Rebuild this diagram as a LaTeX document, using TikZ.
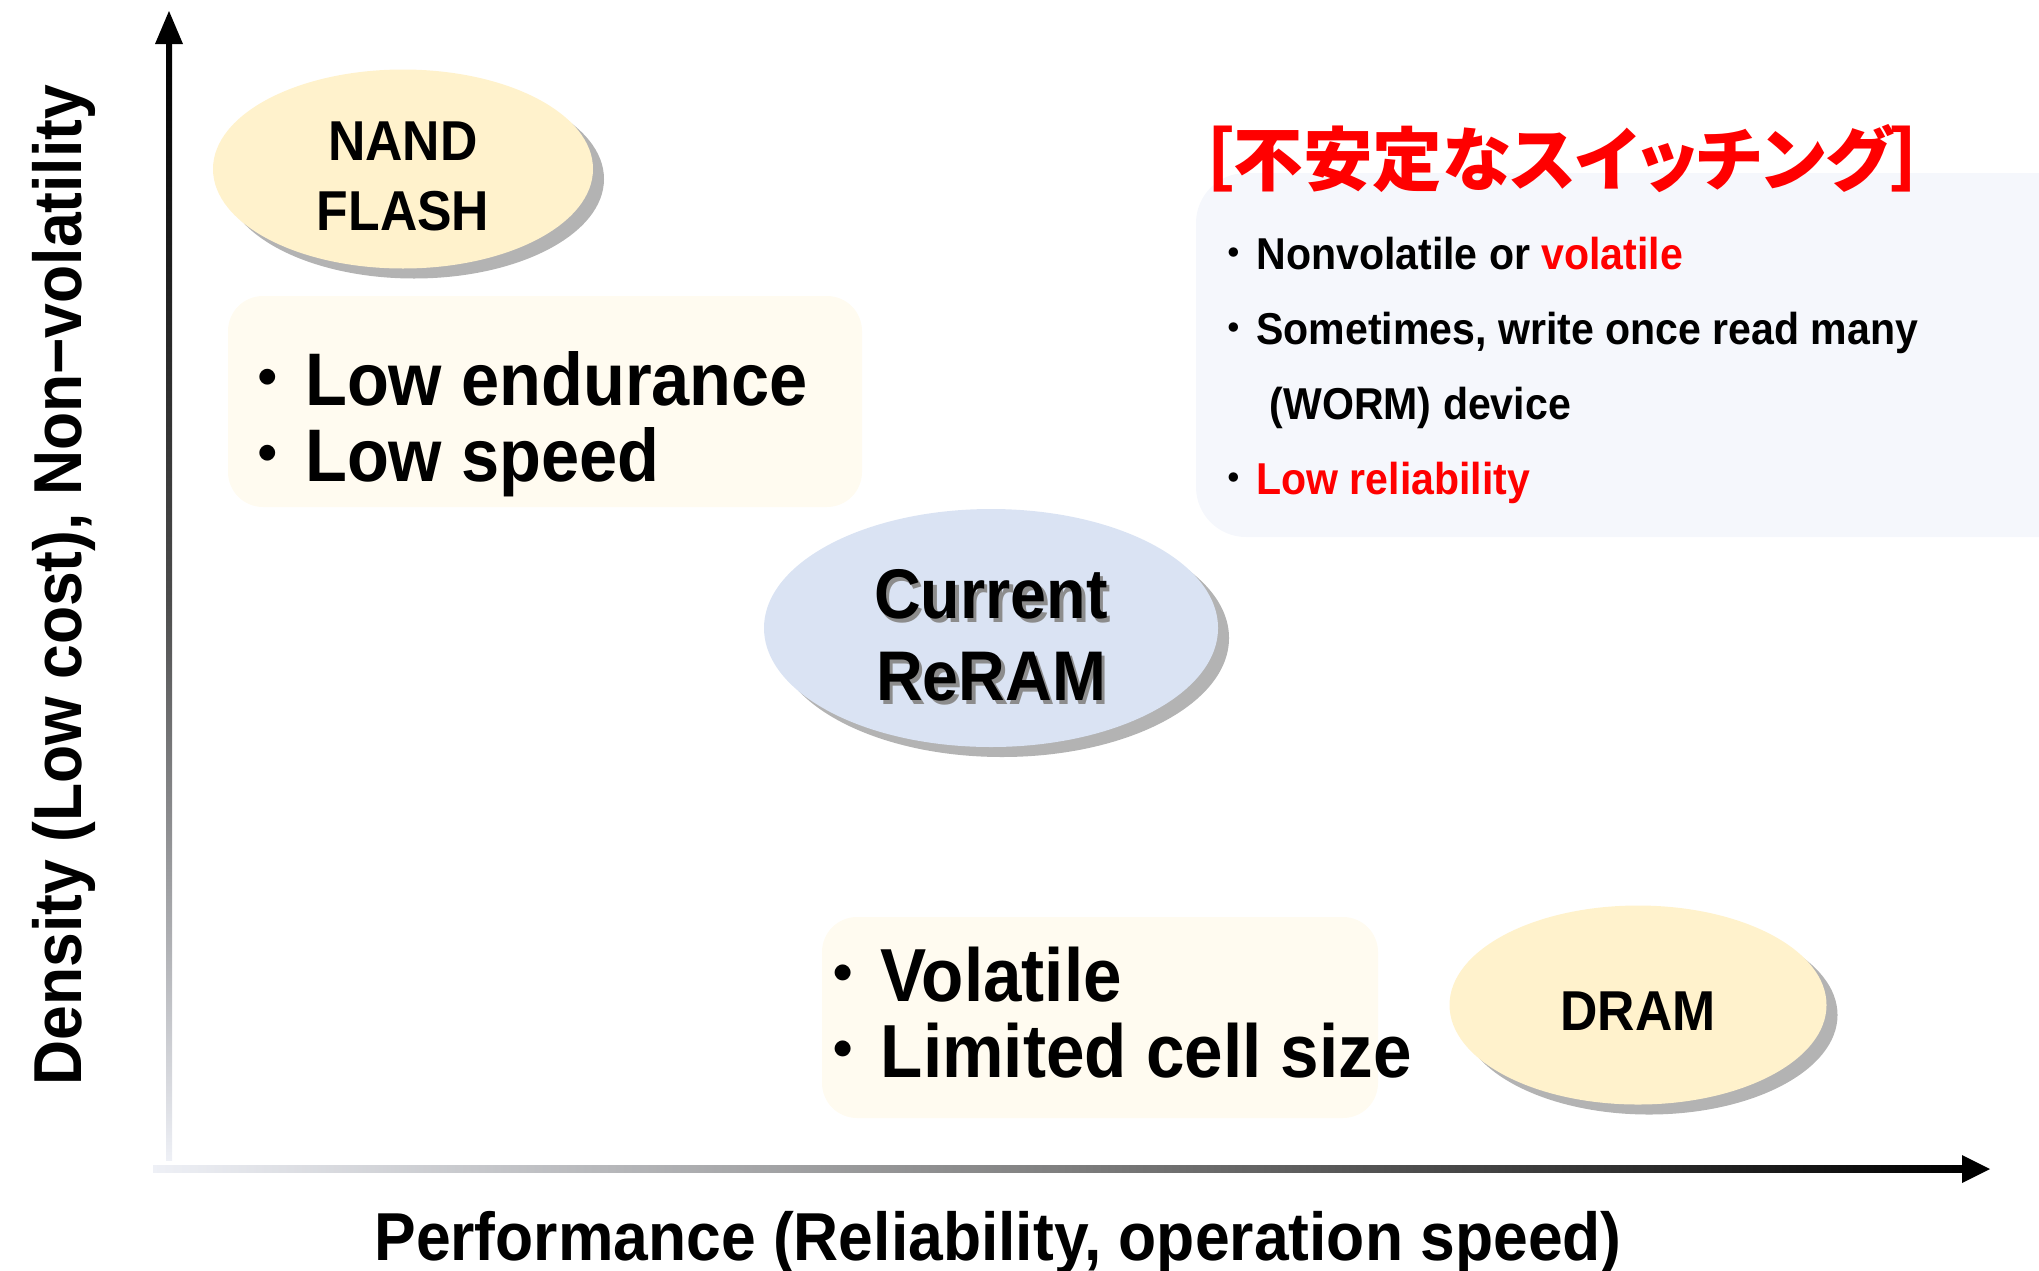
\documentclass[tikz,border=0pt]{standalone}
\usepackage{fontspec}
\setmainfont{Liberation Sans}[FakeStretch=0.92]
\newfontfamily\jpfont{Noto Sans CJK JP}
\newfontfamily\jptitlefont{Noto Sans CJK JP}[RawFeature=+palt]
\usetikzlibrary{shapes.geometric, shadows, calc}
\definecolor{nandyellow}{HTML}{FFF2CC}
\definecolor{reramblue}{HTML}{DAE3F3}
\definecolor{noteyellow}{HTML}{FFFBF0}
\definecolor{noteblue}{HTML}{F5F7FC}
\definecolor{axislight}{HTML}{EEF0F6}
\definecolor{alertred}{HTML}{FF0000}
\newcommand{\bul}{{\jpfont\mdseries ・}}
\newcommand{\embossed}[1]{\makebox[0pt][l]{\hspace{0.035cm}\raisebox{-0.035cm}{\textcolor{black!45}{#1}}}#1}

\begin{document}
\begin{tikzpicture}[
    every node/.style={inner sep=0pt},
    memory/.style={ellipse, fill=#1, align=center, drop shadow={shadow xshift=0.11cm, shadow yshift=-0.1cm, fill=black!40, opacity=0.75}},
    note/.style={rounded corners=0.35cm, fill=#1},
    bullets/.style={anchor=base west, align=left},
    axislabel/.style={anchor=base, font=\bfseries\fontsize{19.3}{23}\selectfont},
]

%% Canvas
\useasboundingbox (0,0) rectangle (20.39,-12.70);
\clip (0,0) rectangle (20.39,-12.70);

%% Axes
\coordinate (ybot) at (1.69,-11.60);
\coordinate (ytop) at (1.69,-0.44);
\coordinate (ytip) at (1.69,-0.11);
\coordinate (xleft) at (1.53,-11.69);
\coordinate (xright) at (19.62,-11.69);
\coordinate (xtip) at (19.90,-11.69);

\shade[bottom color=axislight, top color=black, middle color=black!70] ($(ybot)+(-0.03,0)$) rectangle ($(ytop)+(0.03,0)$);
\fill (ytip) -- ($(ytop)+(-0.14,0)$) -- ($(ytop)+(0.14,0)$) -- cycle;
\shade[left color=axislight, right color=black, middle color=black!50] ($(xleft)+(0,-0.035)$) rectangle ($(xright)+(0,0.035)$);
\fill (xtip) -- ($(xright)+(0,0.14)$) -- ($(xright)+(0,-0.14)$) -- cycle;

\node[axislabel, rotate=90] (ylab) at (0.81,-5.85) {Density (Low cost), Non−volatility};
\node[axislabel] (xlab) at (9.98,-12.60) {Performance (Reliability, operation speed)};

%% Switching box (top right)
\node[note=noteblue, minimum width=9.04cm, minimum height=3.64cm, rounded corners=0.5cm] (swbox) at (16.48,-3.55) {};
\node[anchor=west, text=alertred, font=\jptitlefont\bfseries\fontsize{19.8}{22}\selectfont] (swtitle) at (11.98,-1.59) {［不安定なスイッチング］};
\node[bullets, font=\bfseries\fontsize{12.7}{21.3}\selectfont] (swlist) at (12.11,-4.94)
  {\bul Nonvolatile or \textcolor{alertred}{volatile}\\
   \bul Sometimes, write once read many\\
   \hspace*{1.3em}(WORM) device\\
   \bul \textcolor{alertred}{Low reliability}};

%% NAND FLASH
\node[memory=nandyellow, minimum width=3.80cm, minimum height=1.99cm, font=\bfseries\fontsize{16}{20}\selectfont] (nand) at (4.03,-1.69) {\rule{0pt}{0.54cm}NAND\\FLASH};
\node[note=noteyellow, minimum width=6.34cm, minimum height=2.11cm] (nandbox) at (5.45,-4.015) {};
\node[bullets, font=\bfseries\fontsize{21.2}{21.4}\selectfont] (nandlist) at (2.30,-4.81)
  {\bul Low endurance\\
   \bul Low speed};

%% Current ReRAM
\node[memory=reramblue, minimum width=4.54cm, minimum height=2.38cm, font=\bfseries\fontsize{20}{23.3}\selectfont] (reram) at (9.91,-6.28) {\rule{0pt}{0.68cm}\embossed{Current}\\\embossed{ReRAM}};

%% DRAM
\node[note=noteyellow, minimum width=5.56cm, minimum height=2.01cm] (drambox) at (11.00,-10.175) {};
\node[bullets, font=\bfseries\fontsize{21.4}{21.6}\selectfont] (dramlist) at (8.05,-10.77)
  {\bul Volatile\\
   \bul Limited cell size};
\node[memory=nandyellow, minimum width=3.77cm, minimum height=1.99cm, font=\bfseries\fontsize{16}{20}\selectfont] (dram) at (16.38,-10.05) {\rule{0pt}{0.51cm}DRAM};

\end{tikzpicture}
\end{document}
